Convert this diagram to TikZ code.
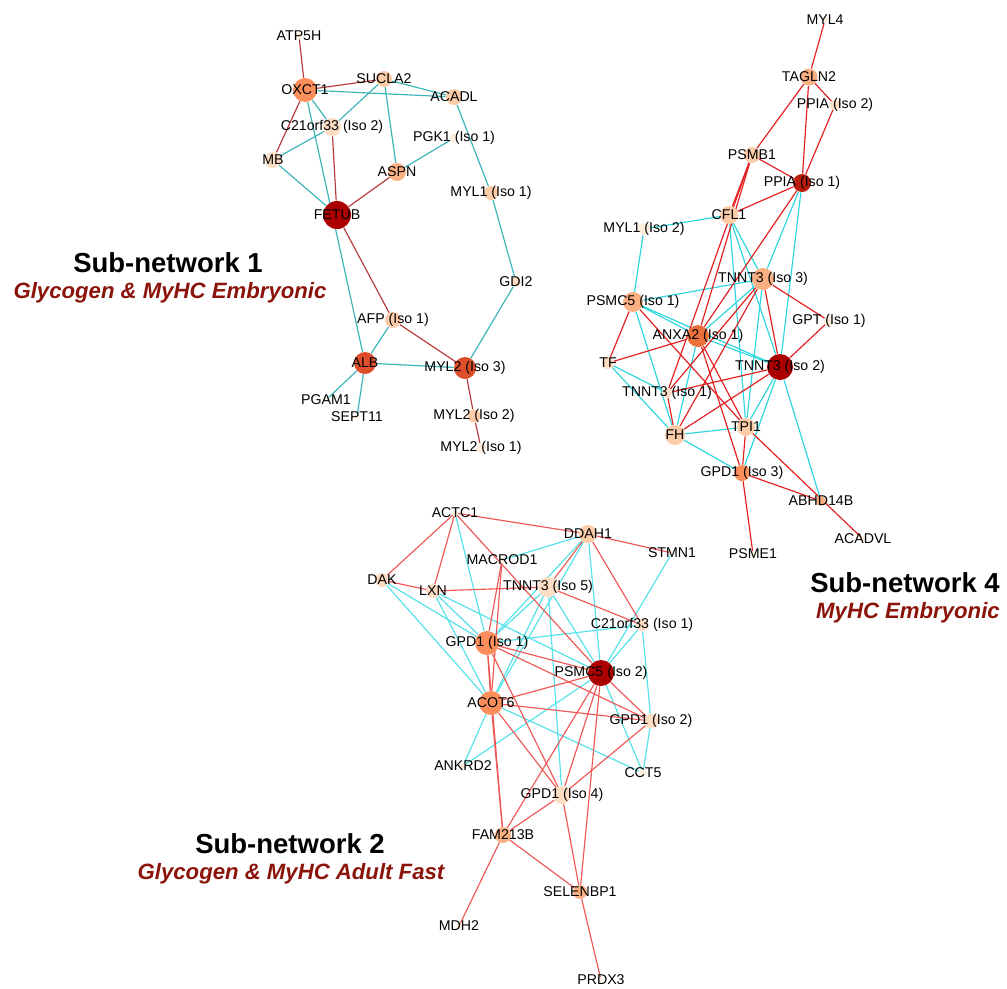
\documentclass[tikz,border=0pt]{standalone}
\usepackage{fontspec}
\setmainfont{Liberation Sans}

\pgfdeclarelayer{bg}
\pgfsetlayers{bg,main}

% node fills
\definecolor{cream}{RGB}{254,238,220}
\definecolor{lpeach}{RGB}{253,222,196}
\definecolor{peach}{RGB}{252,204,168}
\definecolor{lcoral}{RGB}{251,176,132}
\definecolor{coral}{RGB}{252,142,92}
\definecolor{ored}{RGB}{222,78,42}
\definecolor{oredB}{RGB}{236,112,60}
\definecolor{darkA}{RGB}{172,0,0}
\definecolor{darkB}{RGB}{184,28,10}
% edge colours
\definecolor{tealA}{RGB}{58,180,182}
\definecolor{redA}{RGB}{182,58,58}
\definecolor{redB}{RGB}{228,30,30}
\definecolor{cyanB}{RGB}{44,214,222}
\definecolor{redC}{RGB}{240,88,88}
\definecolor{cyanC}{RGB}{84,226,234}
\definecolor{titred}{RGB}{139,20,10}

\begin{document}
\begin{tikzpicture}[x=0.6pt, y=-0.6pt,
    nd/.style={circle, inner sep=0pt, draw=none, fill=#1},
    every label/.style={font=\fontsize{8.5}{10}\selectfont, text=black, inner sep=0pt},
    ln/.style={line width=0.7pt, draw=#1},
    ttl/.style={font=\fontsize{16.5}{19}\selectfont\bfseries},
    subttl/.style={font=\fontsize{13.3}{16}\selectfont\bfseries\itshape, text=titred}]

  \useasboundingbox (0,0) rectangle (1007,989);

  % Sub-network 1
  \foreach \n/\x/\y/\c/\s/\t in {atp/299/36/cream/6/ATP5H,
      oxct/305/90/coral/24/OXCT1, sucla/384/79/peach/16/SUCLA2,
      acadl/454/97/peach/16/ACADL, corfb/332/127/lpeach/18/C21orf33 (Iso 2),
      pgk/454/138/cream/9/PGK1 (Iso 1), mb/273/160/lpeach/16/MB,
      aspn/397/172/lcoral/18/ASPN, mylb/491/193/peach/14/MYL1 (Iso 1),
      fetub/337/215/darkA/28/FETUB, gdi/516/282/lpeach/10/GDI2,
      afp/393/320/peach/16/AFP (Iso 1), alb/365/363/ored/22/ALB,
      mylc/465/368/ored/22/MYL2 (Iso 3), pgam/326/400/cream/5/PGAM1,
      sept/357/417/cream/5/SEPT11, mylbb/474/416/peach/13/MYL2 (Iso 2),
      mylba/481/448/cream/10/MYL2 (Iso 1)}
    \node[nd=\c, minimum size=\s*0.6pt, label={center:\t}] (\n) at (\x,\y) {};

  % Sub-network 4
  \foreach \n/\x/\y/\c/\s/\t in {myla/825/20/cream/6/MYL4,
      tagln/809/77/lcoral/17/TAGLN2, ppib/835/105/lpeach/10/PPIA (Iso 2),
      psmb/752/155/peach/16/PSMB1, ppia/802/183/darkB/18/PPIA (Iso 1),
      cfl/729/215/peach/18/CFL1, mylx/644/229/cream/12/MYL1 (Iso 2),
      tnc/763/279/lcoral/22/TNNT3 (Iso 3), psmca/633/302/lcoral/20/PSMC5 (Iso 1),
      gpt/829/321/cream/10/GPT (Iso 1), anxa/698/336/oredB/22/ANXA2 (Iso 1),
      tf/608/363/lpeach/12/TF, tnb/780/367/darkA/26/TNNT3 (Iso 2),
      tna/667/393/lpeach/10/TNNT3 (Iso 1), tpi/746/427/peach/18/TPI1,
      fh/675/435/peach/20/FH, gpdc/742/473/coral/16/GPD1 (Iso 3),
      abhd/821/501/lcoral/10/ABHD14B, acadv/863/539/cream/5/ACADVL,
      psme/753/554/cream/5/PSME1}
    \node[nd=\c, minimum size=\s*0.6pt, label={center:\t}] (\n) at (\x,\y) {};

  % Sub-network 2
  \foreach \n/\x/\y/\c/\s/\t in {actc/455/513/cream/6/ACTC1,
      ddah/588/534/peach/18/DDAH1, stmn/672/553/cream/6/STMN1,
      macr/502/560/cream/6/MACROD1, dak/382/580/lpeach/14/DAK,
      lxn/433/591/lpeach/14/LXN, tnne/548/587/lpeach/20/TNNT3 (Iso 5),
      corfa/642/625/lpeach/12/C21orf33 (Iso 1), gpda/487/643/coral/24/GPD1 (Iso 1),
      psmcb/601/673/darkA/26/PSMC5 (Iso 2), acot/491/703/coral/24/ACOT6,
      gpdb/651/721/lpeach/14/GPD1 (Iso 2), ankr/463/766/cream/6/ANKRD2,
      cct/643/773/cream/8/CCT5, gpdd/562/795/lpeach/18/GPD1 (Iso 4),
      fam/503/835/lcoral/16/FAM213B, selen/580/892/lcoral/14/SELENBP1,
      mdh/459/926/cream/5/MDH2, prdx/601/980/cream/5/PRDX3}
    \node[nd=\c, minimum size=\s*0.6pt, label={center:\t}] (\n) at (\x,\y) {};

  % Connectors
  \begin{pgfonlayer}{bg}
    \foreach \a/\b in {oxct/acadl, sucla/acadl, sucla/corfb, corfb/mb,
        oxct/corfb, oxct/alb, sucla/aspn, pgk/aspn, mb/fetub, acadl/mylb,
        mylb/gdi, gdi/mylc, afp/alb, alb/mylc, alb/pgam, alb/sept}
      \draw[ln=tealA] (\a) -- (\b);
    \foreach \a/\b in {atp/oxct, oxct/sucla, oxct/mb, corfb/fetub,
        aspn/fetub, fetub/afp, afp/mylc, mylc/mylbb, mylbb/mylba}
      \draw[ln=redA] (\a) -- (\b);

    \foreach \a/\b in {mylx/cfl, mylx/psmca, psmca/tnc, psmca/tnb,
        psmca/anxa, psmca/fh, anxa/tnb, anxa/tnc, anxa/fh, tf/fh, tf/tna,
        cfl/tnc, cfl/tnb, cfl/tpi, ppia/tnc, ppia/tnb, tnc/tpi, tnb/tpi,
        tnb/gpdc, tnb/abhd, fh/tpi, fh/gpdc}
      \draw[ln=cyanB] (\a) -- (\b);
    \foreach \a/\b in {myla/tagln, tagln/ppib, tagln/ppia, tagln/psmb,
        ppib/ppia, psmb/ppia, psmb/cfl, psmb/anxa, psmb/tna, ppia/cfl,
        ppia/anxa, tnc/tnb, tnc/gpt, gpt/tnb, psmca/tf, psmca/tpi, tf/anxa,
        tna/tnb, tna/fh, tnc/tna, tnc/fh, tnb/fh, anxa/tpi, anxa/gpdc,
        tpi/gpdc, tpi/acadv, gpdc/abhd, gpdc/psme}
      \draw[ln=redB] (\a) -- (\b);

    \foreach \a/\b in {actc/gpda, ddah/macr, ddah/gpda, ddah/acot,
        ddah/psmcb, stmn/psmcb, dak/gpda, dak/acot, lxn/gpda, lxn/acot,
        lxn/psmcb, tnne/gpda, tnne/acot, tnne/psmcb, tnne/gpdd, gpda/corfa,
        corfa/gpdb, corfa/psmcb, psmcb/ankr, psmcb/cct, acot/ankr, acot/cct,
        gpdb/cct}
      \draw[ln=cyanC] (\a) -- (\b);
    \foreach \a/\b in {actc/ddah, actc/dak, actc/lxn, actc/psmcb,
        ddah/stmn, ddah/tnne, ddah/corfa, macr/gpda, macr/acot, dak/lxn,
        lxn/tnne, tnne/corfa, gpda/psmcb, gpda/gpdb, gpda/acot, gpda/gpdd,
        gpda/fam, acot/psmcb, acot/gpdb, acot/gpdd, acot/fam, psmcb/gpdb,
        psmcb/gpdd, psmcb/fam, psmcb/selen, gpdb/gpdd, gpdd/fam, gpdd/selen,
        fam/selen, fam/mdh, selen/prdx}
      \draw[ln=redC] (\a) -- (\b);
  \end{pgfonlayer}

  % Titles
  \node[ttl] (tA) at (168,263) {Sub-network 1};
  \node[subttl] (sA) at (170,293) {Glycogen \& MyHC Embryonic};
  \node[ttl] (tD) at (905,583) {Sub-network 4};
  \node[subttl] (sD) at (908,613) {MyHC Embryonic};
  \node[ttl] (tB) at (290,844) {Sub-network 2};
  \node[subttl] (sB) at (291,874) {Glycogen \& MyHC Adult Fast};

\end{tikzpicture}
\end{document}
